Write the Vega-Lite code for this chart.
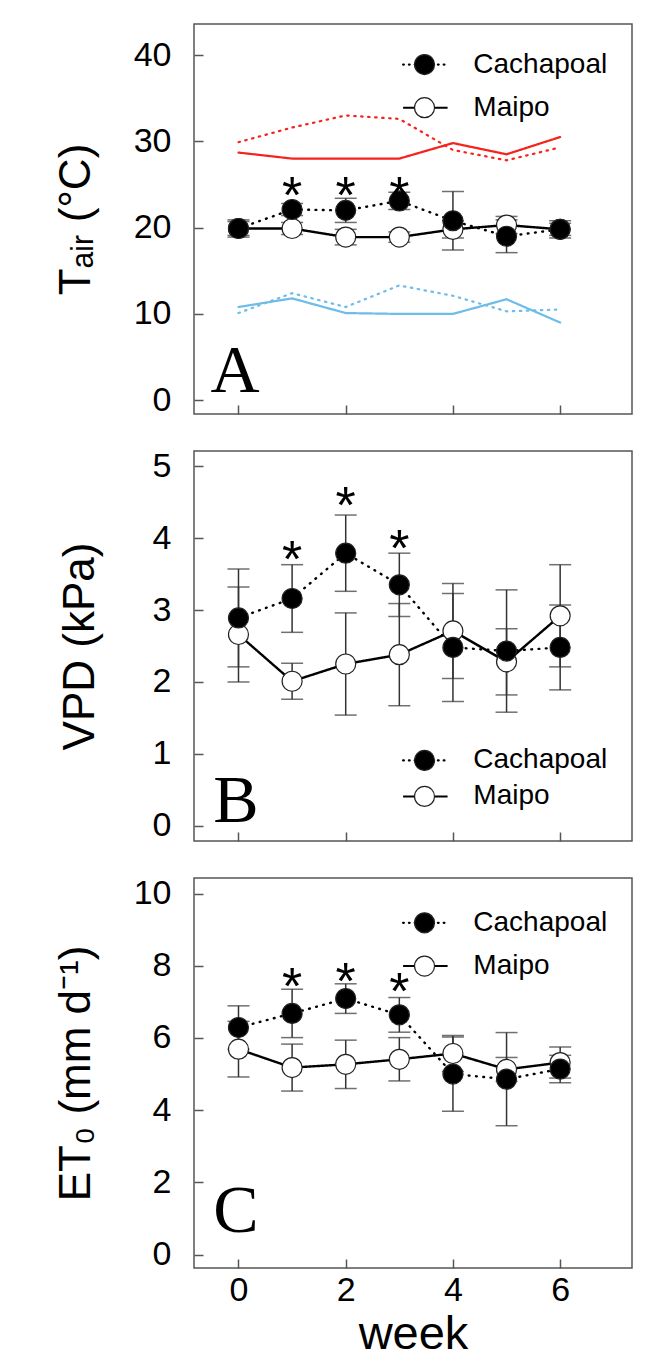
{
  "$schema": "https://vega.github.io/schema/vega-lite/v6.json",
  "background": "white",
  "padding": {"left": 53, "top": 23, "right": 5, "bottom": 5},
  "spacing": 37,
  "bounds": "flush",
  "config": {
    "font": "Liberation Sans",
    "view": {"stroke": "#555", "strokeWidth": 1.5},
    "axis": {"domain": false, "grid": false, "tickColor": "#555", "tickWidth": 1.5, "tickSize": -9, "labelFont": "Liberation Sans", "labelFontSize": 34, "labelColor": "black", "titleFont": "Liberation Sans", "titleFontSize": 44, "titleFontWeight": "normal", "titleColor": "black"}
  },
  "datasets": {
    "A": [
      {"site": "Maipo", "week": 0, "mean": 19.9, "sd": 0.8},
      {"site": "Maipo", "week": 1, "mean": 19.9, "sd": 0.7},
      {"site": "Maipo", "week": 2, "mean": 18.9, "sd": 0.9},
      {"site": "Maipo", "week": 3, "mean": 18.9, "sd": 0.6},
      {"site": "Maipo", "week": 4, "mean": 19.8, "sd": 1.0},
      {"site": "Maipo", "week": 5, "mean": 20.3, "sd": 1.0},
      {"site": "Maipo", "week": 6, "mean": 19.8, "sd": 0.7},
      {"site": "Cachapoal", "week": 0, "mean": 19.9, "sd": 1.0},
      {"site": "Cachapoal", "week": 1, "mean": 22.1, "sd": 0.7},
      {"site": "Cachapoal", "week": 2, "mean": 22.0, "sd": 1.4},
      {"site": "Cachapoal", "week": 3, "mean": 23.1, "sd": 1.0},
      {"site": "Cachapoal", "week": 4, "mean": 20.8, "sd": 3.4},
      {"site": "Cachapoal", "week": 5, "mean": 19.0, "sd": 1.9},
      {"site": "Cachapoal", "week": 6, "mean": 19.8, "sd": 1.0}
    ],
    "Atemp": [
      {"site": "Maipo", "kind": "max", "week": 0, "value": 28.7},
      {"site": "Maipo", "kind": "max", "week": 1, "value": 28.0},
      {"site": "Maipo", "kind": "max", "week": 2, "value": 28.0},
      {"site": "Maipo", "kind": "max", "week": 3, "value": 28.0},
      {"site": "Maipo", "kind": "max", "week": 4, "value": 29.8},
      {"site": "Maipo", "kind": "max", "week": 5, "value": 28.5},
      {"site": "Maipo", "kind": "max", "week": 6, "value": 30.5},
      {"site": "Cachapoal", "kind": "max", "week": 0, "value": 29.9},
      {"site": "Cachapoal", "kind": "max", "week": 1, "value": 31.6},
      {"site": "Cachapoal", "kind": "max", "week": 2, "value": 33.0},
      {"site": "Cachapoal", "kind": "max", "week": 3, "value": 32.6},
      {"site": "Cachapoal", "kind": "max", "week": 4, "value": 29.0},
      {"site": "Cachapoal", "kind": "max", "week": 5, "value": 27.8},
      {"site": "Cachapoal", "kind": "max", "week": 6, "value": 29.3},
      {"site": "Maipo", "kind": "min", "week": 0, "value": 10.8},
      {"site": "Maipo", "kind": "min", "week": 1, "value": 11.8},
      {"site": "Maipo", "kind": "min", "week": 2, "value": 10.1},
      {"site": "Maipo", "kind": "min", "week": 3, "value": 10.0},
      {"site": "Maipo", "kind": "min", "week": 4, "value": 10.0},
      {"site": "Maipo", "kind": "min", "week": 5, "value": 11.7},
      {"site": "Maipo", "kind": "min", "week": 6, "value": 9.0},
      {"site": "Cachapoal", "kind": "min", "week": 0, "value": 10.1},
      {"site": "Cachapoal", "kind": "min", "week": 1, "value": 12.4},
      {"site": "Cachapoal", "kind": "min", "week": 2, "value": 10.8},
      {"site": "Cachapoal", "kind": "min", "week": 3, "value": 13.3},
      {"site": "Cachapoal", "kind": "min", "week": 4, "value": 12.1},
      {"site": "Cachapoal", "kind": "min", "week": 5, "value": 10.3},
      {"site": "Cachapoal", "kind": "min", "week": 6, "value": 10.5}
    ],
    "Astar": [
      {"week": 1, "value": 25.2},
      {"week": 2, "value": 25.2},
      {"week": 3, "value": 25.2}
    ],
    "B": [
      {"site": "Maipo", "week": 0, "mean": 2.66, "sd": 0.66},
      {"site": "Maipo", "week": 1, "mean": 2.01, "sd": 0.25},
      {"site": "Maipo", "week": 2, "mean": 2.25, "sd": 0.71},
      {"site": "Maipo", "week": 3, "mean": 2.38, "sd": 0.71},
      {"site": "Maipo", "week": 4, "mean": 2.71, "sd": 0.66},
      {"site": "Maipo", "week": 5, "mean": 2.28, "sd": 0.46},
      {"site": "Maipo", "week": 6, "mean": 2.92, "sd": 0.71},
      {"site": "Cachapoal", "week": 0, "mean": 2.89, "sd": 0.68},
      {"site": "Cachapoal", "week": 1, "mean": 3.16, "sd": 0.47},
      {"site": "Cachapoal", "week": 2, "mean": 3.79, "sd": 0.53},
      {"site": "Cachapoal", "week": 3, "mean": 3.35, "sd": 0.44},
      {"site": "Cachapoal", "week": 4, "mean": 2.48, "sd": 0.75},
      {"site": "Cachapoal", "week": 5, "mean": 2.43, "sd": 0.85},
      {"site": "Cachapoal", "week": 6, "mean": 2.48, "sd": 0.59}
    ],
    "Bstar": [
      {"week": 1, "value": 3.87},
      {"week": 2, "value": 4.63},
      {"week": 3, "value": 4.03}
    ],
    "C": [
      {"site": "Maipo", "week": 0, "mean": 5.69, "sd": 0.77},
      {"site": "Maipo", "week": 1, "mean": 5.18, "sd": 0.65},
      {"site": "Maipo", "week": 2, "mean": 5.27, "sd": 0.67},
      {"site": "Maipo", "week": 3, "mean": 5.41, "sd": 0.6},
      {"site": "Maipo", "week": 4, "mean": 5.57, "sd": 0.5},
      {"site": "Maipo", "week": 5, "mean": 5.13, "sd": 0.33},
      {"site": "Maipo", "week": 6, "mean": 5.32, "sd": 0.43},
      {"site": "Cachapoal", "week": 0, "mean": 6.29, "sd": 0.6},
      {"site": "Cachapoal", "week": 1, "mean": 6.68, "sd": 0.67},
      {"site": "Cachapoal", "week": 2, "mean": 7.09, "sd": 0.41},
      {"site": "Cachapoal", "week": 3, "mean": 6.64, "sd": 0.48},
      {"site": "Cachapoal", "week": 4, "mean": 5.0, "sd": 1.03},
      {"site": "Cachapoal", "week": 5, "mean": 4.86, "sd": 1.29},
      {"site": "Cachapoal", "week": 6, "mean": 5.14, "sd": 0.38}
    ],
    "Cstar": [
      {"week": 1, "value": 7.76},
      {"week": 2, "value": 7.9},
      {"week": 3, "value": 7.63}
    ]
  },
  "vconcat": [
    {
      "width": 438, "height": 390,
      "data": {"name": "A"},
      "encoding": {
        "x": {"field": "week", "type": "quantitative", "scale": {"domain": [-0.83, 7.34], "nice": false, "zero": false}, "axis": {"values": [0, 2, 4, 6], "labels": false, "title": null}},
        "y": {"field": "mean", "type": "quantitative", "scale": {"domain": [-1.6, 43.6], "nice": false, "zero": false}, "axis": {"values": [0, 10, 20, 30, 40], "title": "Tₐᵢᵣ (°C)", "titleX": -118, "titleBaseline": "middle", "labelPadding": 32}}
      },
      "resolve": {"scale": {"strokeDash": "independent", "color": "independent"}},
      "layer": [
        {"data": {"name": "Atemp"}, "mark": {"type": "line", "strokeWidth": 2.2, "strokeCap": "round"},
         "encoding": {
           "y": {"field": "value", "type": "quantitative", "scale": {"domain": [-1.6, 43.6], "nice": false, "zero": false}, "axis": {"values": [0, 10, 20, 30, 40], "title": "Tₐᵢᵣ (°C)", "titleX": -118, "titleBaseline": "middle", "labelPadding": 32}},
           "color": {"field": "kind", "type": "nominal", "scale": {"domain": ["max", "min"], "range": ["#f5231c", "#6dbde8"]}, "legend": null},
           "strokeDash": {"field": "site", "type": "nominal", "scale": {"domain": ["Cachapoal", "Maipo"], "range": [[1.5, 5.5], [1, 0]]}, "legend": null}
         }},
        {"mark": {"type": "errorbar", "ticks": true, "size": 22, "thickness": 1.5, "color": "#333"}, "encoding": {"yError": {"field": "sd"}}},
        {"mark": {"type": "line", "color": "black", "strokeWidth": 2.4, "strokeCap": "round"},
         "encoding": {"strokeDash": {"field": "site", "type": "nominal", "scale": {"domain": ["Cachapoal", "Maipo"], "range": [[0.8, 6.5], [1, 0]]}, "legend": null}}},
        {"mark": {"type": "point", "shape": "circle", "filled": true, "size": 400, "stroke": "#222", "strokeWidth": 1.2, "opacity": 1},
         "encoding": {"fill": {"field": "site", "type": "nominal", "scale": {"domain": ["Cachapoal", "Maipo"], "range": ["black", "white"]}, "legend": null}}},
        {"data": {"name": "Astar"}, "mark": {"type": "text", "text": "*", "fontSize": 52, "baseline": "alphabetic", "dy": 30},
         "encoding": {"y": {"field": "value", "type": "quantitative", "scale": {"domain": [-1.6, 43.6], "nice": false, "zero": false}, "axis": {"values": [0, 10, 20, 30, 40], "title": "Tₐᵢᵣ (°C)", "titleX": -118, "titleBaseline": "middle", "labelPadding": 32}}}},
        {"transform": [{"filter": "datum.week == 0 && datum.site == 'Maipo'"}],
         "encoding": {
           "y": {"datum": 38.9, "type": "quantitative", "scale": {"domain": [-1.6, 43.6], "nice": false, "zero": false}, "axis": {"values": [0, 10, 20, 30, 40], "title": "Tₐᵢᵣ (°C)", "titleX": -118, "titleBaseline": "middle", "labelPadding": 32}}
         },
         "layer": [
           {"mark": {"type": "rule", "color": "black", "strokeWidth": 2.2, "strokeCap": "round", "strokeDash": [0.8, 5]},
            "encoding": {"x": {"datum": 3.07, "type": "quantitative", "scale": {"domain": [-0.83, 7.34], "nice": false, "zero": false}, "axis": {"values": [0, 2, 4, 6], "labels": false, "title": null}}, "x2": {"datum": 3.9}}},
           {"mark": {"type": "point", "shape": "circle", "filled": true, "fill": "black", "size": 400, "stroke": "#222", "strokeWidth": 1.2, "opacity": 1},
            "encoding": {"x": {"datum": 3.47, "type": "quantitative", "scale": {"domain": [-0.83, 7.34], "nice": false, "zero": false}, "axis": {"values": [0, 2, 4, 6], "labels": false, "title": null}}}},
           {"mark": {"type": "text", "text": "Cachapoal", "fontSize": 28, "align": "left", "baseline": "middle"},
            "encoding": {"x": {"datum": 4.38, "type": "quantitative", "scale": {"domain": [-0.83, 7.34], "nice": false, "zero": false}, "axis": {"values": [0, 2, 4, 6], "labels": false, "title": null}}}}
         ]},
        {"transform": [{"filter": "datum.week == 0 && datum.site == 'Maipo'"}],
         "encoding": {
           "y": {"datum": 33.9, "type": "quantitative", "scale": {"domain": [-1.6, 43.6], "nice": false, "zero": false}, "axis": {"values": [0, 10, 20, 30, 40], "title": "Tₐᵢᵣ (°C)", "titleX": -118, "titleBaseline": "middle", "labelPadding": 32}}
         },
         "layer": [
           {"mark": {"type": "rule", "color": "black", "strokeWidth": 2},
            "encoding": {"x": {"datum": 3.07, "type": "quantitative", "scale": {"domain": [-0.83, 7.34], "nice": false, "zero": false}, "axis": {"values": [0, 2, 4, 6], "labels": false, "title": null}}, "x2": {"datum": 3.9}}},
           {"mark": {"type": "point", "shape": "circle", "filled": true, "fill": "white", "size": 400, "stroke": "#222", "strokeWidth": 1.2, "opacity": 1},
            "encoding": {"x": {"datum": 3.47, "type": "quantitative", "scale": {"domain": [-0.83, 7.34], "nice": false, "zero": false}, "axis": {"values": [0, 2, 4, 6], "labels": false, "title": null}}}},
           {"mark": {"type": "text", "text": "Maipo", "fontSize": 28, "align": "left", "baseline": "middle"},
            "encoding": {"x": {"datum": 4.38, "type": "quantitative", "scale": {"domain": [-0.83, 7.34], "nice": false, "zero": false}, "axis": {"values": [0, 2, 4, 6], "labels": false, "title": null}}}}
         ]},
        {"transform": [{"filter": "datum.week == 0 && datum.site == 'Maipo'"}],
         "mark": {"type": "text", "text": "A", "font": "Liberation Serif", "fontSize": 68, "align": "left", "baseline": "alphabetic"},
         "encoding": {
           "x": {"datum": -0.52, "type": "quantitative", "scale": {"domain": [-0.83, 7.34], "nice": false, "zero": false}, "axis": {"values": [0, 2, 4, 6], "labels": false, "title": null}},
           "y": {"datum": 0.93, "type": "quantitative", "scale": {"domain": [-1.6, 43.6], "nice": false, "zero": false}, "axis": {"values": [0, 10, 20, 30, 40], "title": "Tₐᵢᵣ (°C)", "titleX": -118, "titleBaseline": "middle", "labelPadding": 32}}}}
      ]
    },
    {
      "width": 438, "height": 390,
      "data": {"name": "B"},
      "encoding": {
        "x": {"field": "week", "type": "quantitative", "scale": {"domain": [-0.83, 7.34], "nice": false, "zero": false}, "axis": {"values": [0, 2, 4, 6], "labels": false, "title": null}},
        "y": {"field": "mean", "type": "quantitative", "scale": {"domain": [-0.21, 5.21], "nice": false, "zero": false}, "axis": {"values": [0, 1, 2, 3, 4, 5], "title": "VPD (kPa)", "titleX": -114, "titleBaseline": "middle", "labelPadding": 32}}
      },
      "layer": [
        {"mark": {"type": "errorbar", "ticks": true, "size": 22, "thickness": 1.5, "color": "#333"}, "encoding": {"yError": {"field": "sd"}}},
        {"mark": {"type": "line", "color": "black", "strokeWidth": 2.4, "strokeCap": "round"},
         "encoding": {"strokeDash": {"field": "site", "type": "nominal", "scale": {"domain": ["Cachapoal", "Maipo"], "range": [[0.8, 6.5], [1, 0]]}, "legend": null}}},
        {"mark": {"type": "point", "shape": "circle", "filled": true, "size": 400, "stroke": "#222", "strokeWidth": 1.2, "opacity": 1},
         "encoding": {"fill": {"field": "site", "type": "nominal", "scale": {"domain": ["Cachapoal", "Maipo"], "range": ["black", "white"]}, "legend": null}}},
        {"data": {"name": "Bstar"}, "mark": {"type": "text", "text": "*", "fontSize": 52, "baseline": "alphabetic", "dy": 30},
         "encoding": {"y": {"field": "value", "type": "quantitative", "scale": {"domain": [-0.21, 5.21], "nice": false, "zero": false}, "axis": {"values": [0, 1, 2, 3, 4, 5], "title": "VPD (kPa)", "titleX": -114, "titleBaseline": "middle", "labelPadding": 32}}}},
        {"transform": [{"filter": "datum.week == 0 && datum.site == 'Maipo'"}],
         "encoding": {
           "y": {"datum": 0.91, "type": "quantitative", "scale": {"domain": [-0.21, 5.21], "nice": false, "zero": false}, "axis": {"values": [0, 1, 2, 3, 4, 5], "title": "VPD (kPa)", "titleX": -114, "titleBaseline": "middle", "labelPadding": 32}}
         },
         "layer": [
           {"mark": {"type": "rule", "color": "black", "strokeWidth": 2.2, "strokeCap": "round", "strokeDash": [0.8, 5]},
            "encoding": {"x": {"datum": 3.07, "type": "quantitative", "scale": {"domain": [-0.83, 7.34], "nice": false, "zero": false}, "axis": {"values": [0, 2, 4, 6], "labels": false, "title": null}}, "x2": {"datum": 3.9}}},
           {"mark": {"type": "point", "shape": "circle", "filled": true, "fill": "black", "size": 400, "stroke": "#222", "strokeWidth": 1.2, "opacity": 1},
            "encoding": {"x": {"datum": 3.47, "type": "quantitative", "scale": {"domain": [-0.83, 7.34], "nice": false, "zero": false}, "axis": {"values": [0, 2, 4, 6], "labels": false, "title": null}}}},
           {"mark": {"type": "text", "text": "Cachapoal", "fontSize": 28, "align": "left", "baseline": "middle"},
            "encoding": {"x": {"datum": 4.38, "type": "quantitative", "scale": {"domain": [-0.83, 7.34], "nice": false, "zero": false}, "axis": {"values": [0, 2, 4, 6], "labels": false, "title": null}}}}
         ]},
        {"transform": [{"filter": "datum.week == 0 && datum.site == 'Maipo'"}],
         "encoding": {
           "y": {"datum": 0.41, "type": "quantitative", "scale": {"domain": [-0.21, 5.21], "nice": false, "zero": false}, "axis": {"values": [0, 1, 2, 3, 4, 5], "title": "VPD (kPa)", "titleX": -114, "titleBaseline": "middle", "labelPadding": 32}}
         },
         "layer": [
           {"mark": {"type": "rule", "color": "black", "strokeWidth": 2},
            "encoding": {"x": {"datum": 3.07, "type": "quantitative", "scale": {"domain": [-0.83, 7.34], "nice": false, "zero": false}, "axis": {"values": [0, 2, 4, 6], "labels": false, "title": null}}, "x2": {"datum": 3.9}}},
           {"mark": {"type": "point", "shape": "circle", "filled": true, "fill": "white", "size": 400, "stroke": "#222", "strokeWidth": 1.2, "opacity": 1},
            "encoding": {"x": {"datum": 3.47, "type": "quantitative", "scale": {"domain": [-0.83, 7.34], "nice": false, "zero": false}, "axis": {"values": [0, 2, 4, 6], "labels": false, "title": null}}}},
           {"mark": {"type": "text", "text": "Maipo", "fontSize": 28, "align": "left", "baseline": "middle"},
            "encoding": {"x": {"datum": 4.38, "type": "quantitative", "scale": {"domain": [-0.83, 7.34], "nice": false, "zero": false}, "axis": {"values": [0, 2, 4, 6], "labels": false, "title": null}}}}
         ]},
        {"transform": [{"filter": "datum.week == 0 && datum.site == 'Maipo'"}],
         "mark": {"type": "text", "text": "B", "font": "Liberation Serif", "fontSize": 68, "align": "left", "baseline": "alphabetic"},
         "encoding": {
           "x": {"datum": -0.47, "type": "quantitative", "scale": {"domain": [-0.83, 7.34], "nice": false, "zero": false}, "axis": {"values": [0, 2, 4, 6], "labels": false, "title": null}},
           "y": {"datum": 0.06, "type": "quantitative", "scale": {"domain": [-0.21, 5.21], "nice": false, "zero": false}, "axis": {"values": [0, 1, 2, 3, 4, 5], "title": "VPD (kPa)", "titleX": -114, "titleBaseline": "middle", "labelPadding": 32}}}}
      ]
    },
    {
      "width": 438, "height": 390,
      "data": {"name": "C"},
      "encoding": {
        "x": {"field": "week", "type": "quantitative", "scale": {"domain": [-0.83, 7.34], "nice": false, "zero": false}, "axis": {"values": [0, 2, 4, 6], "title": "week", "labelPadding": 14, "titlePadding": 4, "titleFontSize": 47}},
        "y": {"field": "mean", "type": "quantitative", "scale": {"domain": [-0.37, 10.43], "nice": false, "zero": false}, "axis": {"values": [0, 2, 4, 6, 8, 10], "title": "ET₀ (mm d⁻¹)", "titleX": -118, "titleBaseline": "middle", "labelPadding": 32}}
      },
      "layer": [
        {"mark": {"type": "errorbar", "ticks": true, "size": 22, "thickness": 1.5, "color": "#333"}, "encoding": {"yError": {"field": "sd"}}},
        {"mark": {"type": "line", "color": "black", "strokeWidth": 2.4, "strokeCap": "round"},
         "encoding": {"strokeDash": {"field": "site", "type": "nominal", "scale": {"domain": ["Cachapoal", "Maipo"], "range": [[0.8, 6.5], [1, 0]]}, "legend": null}}},
        {"mark": {"type": "point", "shape": "circle", "filled": true, "size": 400, "stroke": "#222", "strokeWidth": 1.2, "opacity": 1},
         "encoding": {"fill": {"field": "site", "type": "nominal", "scale": {"domain": ["Cachapoal", "Maipo"], "range": ["black", "white"]}, "legend": null}}},
        {"data": {"name": "Cstar"}, "mark": {"type": "text", "text": "*", "fontSize": 52, "baseline": "alphabetic", "dy": 30},
         "encoding": {"y": {"field": "value", "type": "quantitative", "scale": {"domain": [-0.37, 10.43], "nice": false, "zero": false}, "axis": {"values": [0, 2, 4, 6, 8, 10], "title": "ET₀ (mm d⁻¹)", "titleX": -118, "titleBaseline": "middle", "labelPadding": 32}}}},
        {"transform": [{"filter": "datum.week == 0 && datum.site == 'Maipo'"}],
         "encoding": {
           "y": {"datum": 9.19, "type": "quantitative", "scale": {"domain": [-0.37, 10.43], "nice": false, "zero": false}, "axis": {"values": [0, 2, 4, 6, 8, 10], "title": "ET₀ (mm d⁻¹)", "titleX": -118, "titleBaseline": "middle", "labelPadding": 32}}
         },
         "layer": [
           {"mark": {"type": "rule", "color": "black", "strokeWidth": 2.2, "strokeCap": "round", "strokeDash": [0.8, 5]},
            "encoding": {"x": {"datum": 3.07, "type": "quantitative", "scale": {"domain": [-0.83, 7.34], "nice": false, "zero": false}, "axis": {"values": [0, 2, 4, 6], "title": "week", "labelPadding": 14, "titlePadding": 4, "titleFontSize": 47}}, "x2": {"datum": 3.9}}},
           {"mark": {"type": "point", "shape": "circle", "filled": true, "fill": "black", "size": 400, "stroke": "#222", "strokeWidth": 1.2, "opacity": 1},
            "encoding": {"x": {"datum": 3.47, "type": "quantitative", "scale": {"domain": [-0.83, 7.34], "nice": false, "zero": false}, "axis": {"values": [0, 2, 4, 6], "title": "week", "labelPadding": 14, "titlePadding": 4, "titleFontSize": 47}}}},
           {"mark": {"type": "text", "text": "Cachapoal", "fontSize": 28, "align": "left", "baseline": "middle"},
            "encoding": {"x": {"datum": 4.38, "type": "quantitative", "scale": {"domain": [-0.83, 7.34], "nice": false, "zero": false}, "axis": {"values": [0, 2, 4, 6], "title": "week", "labelPadding": 14, "titlePadding": 4, "titleFontSize": 47}}}}
         ]},
        {"transform": [{"filter": "datum.week == 0 && datum.site == 'Maipo'"}],
         "encoding": {
           "y": {"datum": 7.99, "type": "quantitative", "scale": {"domain": [-0.37, 10.43], "nice": false, "zero": false}, "axis": {"values": [0, 2, 4, 6, 8, 10], "title": "ET₀ (mm d⁻¹)", "titleX": -118, "titleBaseline": "middle", "labelPadding": 32}}
         },
         "layer": [
           {"mark": {"type": "rule", "color": "black", "strokeWidth": 2},
            "encoding": {"x": {"datum": 3.07, "type": "quantitative", "scale": {"domain": [-0.83, 7.34], "nice": false, "zero": false}, "axis": {"values": [0, 2, 4, 6], "title": "week", "labelPadding": 14, "titlePadding": 4, "titleFontSize": 47}}, "x2": {"datum": 3.9}}},
           {"mark": {"type": "point", "shape": "circle", "filled": true, "fill": "white", "size": 400, "stroke": "#222", "strokeWidth": 1.2, "opacity": 1},
            "encoding": {"x": {"datum": 3.47, "type": "quantitative", "scale": {"domain": [-0.83, 7.34], "nice": false, "zero": false}, "axis": {"values": [0, 2, 4, 6], "title": "week", "labelPadding": 14, "titlePadding": 4, "titleFontSize": 47}}}},
           {"mark": {"type": "text", "text": "Maipo", "fontSize": 28, "align": "left", "baseline": "middle"},
            "encoding": {"x": {"datum": 4.38, "type": "quantitative", "scale": {"domain": [-0.83, 7.34], "nice": false, "zero": false}, "axis": {"values": [0, 2, 4, 6], "title": "week", "labelPadding": 14, "titlePadding": 4, "titleFontSize": 47}}}}
         ]},
        {"transform": [{"filter": "datum.week == 0 && datum.site == 'Maipo'"}],
         "mark": {"type": "text", "text": "C", "font": "Liberation Serif", "fontSize": 68, "align": "left", "baseline": "alphabetic"},
         "encoding": {
           "x": {"datum": -0.47, "type": "quantitative", "scale": {"domain": [-0.83, 7.34], "nice": false, "zero": false}, "axis": {"values": [0, 2, 4, 6], "title": "week", "labelPadding": 14, "titlePadding": 4, "titleFontSize": 47}},
           "y": {"datum": 0.62, "type": "quantitative", "scale": {"domain": [-0.37, 10.43], "nice": false, "zero": false}, "axis": {"values": [0, 2, 4, 6, 8, 10], "title": "ET₀ (mm d⁻¹)", "titleX": -118, "titleBaseline": "middle", "labelPadding": 32}}}}
      ]
    }
  ]
}
